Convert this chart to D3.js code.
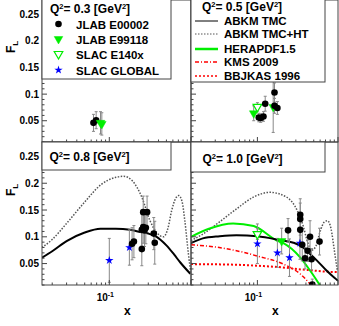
<!DOCTYPE html>
<html lang="en">
<head>
<meta charset="UTF-8">
<title>F_L panels</title>
<script src="https://cdn.jsdelivr.net/npm/d3@7"></script>
<style>
  body { margin: 0; background: #fff; }
  text { font-family: "Liberation Sans", Arial, sans-serif; font-weight: bold; fill: #000; }
</style>
</head>
<body>
<script>
// ---- data ----
const q2Titles = ["0.3", "0.5", "0.8", "1.0"];
const yTickValues = [0.05, 0.1, 0.15, 0.2, 0.25];
const xDomain = [0.015, 1];
const yDomain = [0.01, 0.277];

// points: [x, F_L, error]
const e00002_q03 = [[0.064, 0.046, 0.016], [0.069, 0.051, 0.016]];
const e99118_q03 = [[0.078, 0.046, 0.021], [0.081, 0.044, 0.021]];

const e00002_q05 = [[0.104, 0.056, 0.008], [0.110, 0.055, 0.008], [0.119, 0.058, 0.009],
  [0.125, 0.082, 0.014], [0.163, 0.103, 0.018], [0.163, 0.078, 0.014], [0.177, 0.074, 0.012]];
const e99118_q05 = [[0.090, 0.064, 0.014], [0.157, 0.076, 0.048]];
const e140x_q05 = [[0.100, 0.076, 0.008]];

const e00002_q08 = [[0.19, 0.087, 0.03], [0.20, 0.091, 0.03], [0.25, 0.077, 0.031], [0.25, 0.113, 0.03],
  [0.26, 0.146, 0.03], [0.26, 0.118, 0.03], [0.27, 0.112, 0.03], [0.28, 0.117, 0.03],
  [0.29, 0.146, 0.03], [0.35, 0.106, 0.03], [0.36, 0.089, 0.04]];
const global_q08 = [[0.10, 0.056, 0.041], [0.176, 0.080, 0.033]];

const e00002_q10 = [[0.24, 0.112, 0.022], [0.34, 0.141, 0.03], [0.34, 0.133, 0.03], [0.34, 0.113, 0.03],
  [0.36, 0.085, 0.03], [0.39, 0.060, 0.02], [0.42, 0.074, 0.02], [0.45, 0.100, 0.03],
  [0.47, 0.058, 0.02], [0.48, 0.011, 0.01], [0.59, 0.091, 0.025]];
const e99118_q10 = [[0.20, 0.092, 0.024]];
const e140x_q10 = [[0.10, 0.105, 0.01]];
const global_q10 = [[0.10, 0.087, 0.037], [0.177, 0.070, 0.027], [0.25, 0.061, 0.035], [0.337, 0.088, 0.03]];

// curves: [x, F_L]
const abkmTmc_q08 = [[0.015, 0.061], [0.02, 0.073], [0.03, 0.092], [0.05, 0.108], [0.078, 0.115],
  [0.12, 0.115], [0.18, 0.113], [0.24, 0.109], [0.3, 0.106], [0.38, 0.100], [0.5, 0.084],
  [0.62, 0.067], [0.74, 0.052], [0.98, 0.031]];
const abkmHt_q08 = [[0.015, 0.080], [0.02, 0.095], [0.03, 0.125], [0.05, 0.165], [0.08, 0.198],
  [0.12, 0.211], [0.15, 0.213], [0.19, 0.205], [0.25, 0.174], [0.315, 0.13], [0.38, 0.108],
  [0.46, 0.100], [0.52, 0.115], [0.58, 0.149], [0.65, 0.172], [0.71, 0.177], [0.78, 0.165],
  [0.84, 0.13], [0.93, 0.068], [0.99, 0.035]];

const abkmTmc_q10 = [[0.015, 0.088], [0.021, 0.097], [0.034, 0.101], [0.055, 0.103], [0.1, 0.101],
  [0.19, 0.094], [0.28, 0.089], [0.37, 0.080], [0.45, 0.068], [0.545, 0.056], [0.72, 0.037],
  [0.91, 0.023], [1.0, 0.018]];
const abkmHt_q10 = [[0.015, 0.093], [0.021, 0.105], [0.034, 0.128], [0.055, 0.152], [0.089, 0.174],
  [0.143, 0.183], [0.23, 0.174], [0.31, 0.150], [0.37, 0.12], [0.42, 0.09], [0.47, 0.075],
  [0.53, 0.082], [0.6, 0.11], [0.68, 0.128], [0.74, 0.130], [0.82, 0.115], [0.9, 0.075], [0.98, 0.037]];
const hera_q10 = [[0.015, 0.100], [0.025, 0.115], [0.05, 0.125], [0.09, 0.12], [0.174, 0.093],
  [0.21, 0.088], [0.337, 0.062], [0.45, 0.037], [0.6, 0.009]];
const kms_q10 = [[0.015, 0.085], [0.03, 0.081], [0.055, 0.074], [0.1, 0.064], [0.21, 0.049],
  [0.337, 0.031], [0.45, 0.012], [0.5, 0.004]];
const bbjkas_q10 = [[0.015, 0.049], [0.05, 0.048], [0.1, 0.046], [0.2, 0.043], [0.35, 0.039],
  [0.5, 0.037], [0.7, 0.035], [1.0, 0.034]];

// ---- layout ----
const W = 339, H = 326;
const cols = [[42, 191], [191, 338]];
const rows = [[0, 142], [142, 285]];

const svg = d3.select("body").append("svg").attr("width", W).attr("height", H);

const styles = {
  tmc: { stroke: "#000", width: 2, dash: null },
  ht: { stroke: "#555", width: 1.5, dash: "1.5,1.5" },
  hera: { stroke: "#00ee00", width: 2, dash: null },
  kms: { stroke: "#ff0000", width: 1.5, dash: "4,2,1,2" },
  bbj: { stroke: "#ff0000", width: 2, dash: "2,2" }
};

const panels = [
  { c: 0, r: 0, pts: [["circle", e00002_q03], ["tri", e99118_q03]], curves: [] },
  { c: 1, r: 0, pts: [["tri", e99118_q05], ["open", e140x_q05], ["circle", e00002_q05]], curves: [] },
  { c: 0, r: 1, pts: [["star", global_q08], ["circle", e00002_q08]],
    curves: [["ht", abkmHt_q08], ["tmc", abkmTmc_q08]] },
  { c: 1, r: 1, pts: [["star", global_q10], ["tri", e99118_q10], ["open", e140x_q10], ["circle", e00002_q10]],
    curves: [["ht", abkmHt_q10], ["bbj", bbjkas_q10], ["kms", kms_q10], ["hera", hera_q10], ["tmc", abkmTmc_q10]] }
];

function marker(g, type, x, y) {
  if (type === "circle") {
    g.append("circle").attr("cx", x).attr("cy", y).attr("r", 3.3).attr("fill", "#000");
  } else if (type === "tri" || type === "open") {
    g.append("path").attr("d", d3.symbol(d3.symbolTriangle, 32)())
      .attr("transform", "translate(" + x + "," + y + ") rotate(180)")
      .attr("fill", type === "tri" ? "#00ee00" : "#fff")
      .attr("stroke", "#00ee00").attr("stroke-width", type === "tri" ? 0.5 : 1.2);
  } else if (type === "star") {
    g.append("path").attr("d", d3.symbol(d3.symbolStar, 22)())
      .attr("transform", "translate(" + x + "," + y + ")").attr("fill", "#0000ff");
  }
}

panels.forEach(function (p, i) {
  const x = d3.scaleLog().domain(xDomain).range(cols[p.c]);
  const y = d3.scaleLinear().domain(yDomain).range([rows[p.r][1], rows[p.r][0]]);
  const g = svg.append("g");

  g.append("clipPath").attr("id", "clip" + i).append("rect")
    .attr("x", cols[p.c][0]).attr("y", rows[p.r][0])
    .attr("width", cols[p.c][1] - cols[p.c][0]).attr("height", rows[p.r][1] - rows[p.r][0]);

  // curves
  const line = d3.line().x(d => x(d[0])).y(d => y(d[1])).curve(d3.curveMonotoneX);
  p.curves.forEach(function (c) {
    const s = styles[c[0]];
    g.append("path").datum(c[1]).attr("d", line)
      .attr("clip-path", "url(#clip" + i + ")")
      .attr("fill", "none").attr("stroke", s.stroke).attr("stroke-width", s.width)
      .attr("stroke-dasharray", s.dash);
  });

  // error bars + markers
  const pg = g.append("g").attr("clip-path", "url(#clip" + i + ")");
  p.pts.forEach(function (set) {
    set[1].forEach(function (d) {
      const px = x(d[0]), y0 = y(d[1] - d[2]), y1 = y(d[1] + d[2]);
      pg.append("line").attr("x1", px).attr("x2", px).attr("y1", y0).attr("y2", y1)
        .attr("stroke", "#888").attr("stroke-width", 1);
      [y0, y1].forEach(function (yy) {
        pg.append("line").attr("x1", px - 1.5).attr("x2", px + 1.5).attr("y1", yy).attr("y2", yy)
          .attr("stroke", "#888").attr("stroke-width", 1);
      });
    });
  });
  p.pts.forEach(function (set) {
    set[1].forEach(function (d) { marker(pg, set[0], x(d[0]), y(d[1])); });
  });

  // frame
  g.append("rect").attr("x", cols[p.c][0]).attr("y", rows[p.r][0])
    .attr("width", cols[p.c][1] - cols[p.c][0]).attr("height", rows[p.r][1] - rows[p.r][0])
    .attr("fill", "none").attr("stroke", "#444").attr("stroke-width", 1);

  // y ticks (inside, pointing right)
  d3.range(0.01, 0.2771, 0.01).forEach(function (v) {
    const major = Math.abs(v / 0.05 - Math.round(v / 0.05)) < 1e-6;
    g.append("line").attr("x1", cols[p.c][0]).attr("x2", cols[p.c][0] + (major ? 5 : 2.5))
      .attr("y1", y(v)).attr("y2", y(v)).attr("stroke", "#444");
  });
  if (p.c === 0) {
    yTickValues.forEach(function (v) {
      g.append("text").attr("x", cols[0][0] - 3).attr("y", y(v) + 3.5)
        .attr("text-anchor", "end").attr("font-size", 10).text(d3.format("")(v));
    });
  }

  // x ticks (inside, pointing up)
  const xt = [];
  [0.01, 0.1].forEach(function (dec) {
    for (let k = 1; k <= 9; k++) xt.push(dec * k);
  });
  xt.push(1);
  xt.filter(v => v >= xDomain[0] && v <= xDomain[1]).forEach(function (v) {
    const major = Math.abs(v - 0.1) < 1e-9 || Math.abs(v - 1) < 1e-9;
    g.append("line").attr("x1", x(v)).attr("x2", x(v))
      .attr("y1", rows[p.r][1]).attr("y2", rows[p.r][1] - (major ? 5 : 2.5)).attr("stroke", "#444");
  });
  if (p.r === 1) {
    const t = g.append("text").attr("x", x(0.1) - 4).attr("y", 301)
      .attr("text-anchor", "middle").attr("font-size", 10);
    t.append("tspan").text("10");
    t.append("tspan").attr("dy", -4).attr("font-size", 7).text("-1");
    g.append("text").attr("x", x(0.1) + 18).attr("y", 315)
      .attr("text-anchor", "middle").attr("font-size", 12).text("x");
  }
});

// F_L axis titles
[47, 190].forEach(function (cy) {
  const t = svg.append("text").attr("transform", "translate(15," + cy + ") rotate(-90)")
    .attr("text-anchor", "middle").attr("font-size", 12);
  t.append("tspan").text("F");
  t.append("tspan").attr("dy", 3).attr("font-size", 8).text("L");
});

// boxes and titles
function box(x0, y0, x1, y1) {
  svg.append("rect").attr("x", x0).attr("y", y0).attr("width", x1 - x0).attr("height", y1 - y0)
    .attr("fill", "#fff").attr("stroke", "#444").attr("stroke-width", 1);
}
function title(x0, yb, q) {
  const t = svg.append("text").attr("x", x0).attr("y", yb).attr("font-size", 12);
  t.append("tspan").text("Q");
  t.append("tspan").attr("dy", -4).attr("font-size", 7.5).text("2");
  t.append("tspan").attr("dy", 4).text("= " + q + " [GeV");
  t.append("tspan").attr("dy", -4).attr("font-size", 7.5).text("2");
  t.append("tspan").attr("dy", 4).text("]");
}

box(42, -1, 171, 79);
title(50, 12.5, q2Titles[0]);
const dataLegend = [["circle", "JLAB E00002", 24], ["tri", "JLAB E99118", 39], ["open", "SLAC E140x", 54], ["star", "SLAC GLOBAL", 70]];
dataLegend.forEach(function (d) {
  marker(svg, d[0], 58.5, d[2]);
  svg.append("text").attr("x", 76).attr("y", d[2] + 4.5).attr("font-size", 11.5).text(d[1]);
});

box(191, -1, 325, 82);
title(202, 11, q2Titles[1]);
const curveLegend = [["tmc", "ABKM TMC", 21, 1], ["ht", "ABKM TMC+HT", 34, 1], ["hera", "HERAPDF1.5", 49, 2.5],
  ["kms", "KMS 2009", 62, 1.5], ["bbj", "BBJKAS 1996", 76, 1.5]];
curveLegend.forEach(function (d) {
  const s = styles[d[0]];
  svg.append("line").attr("x1", 195).attr("x2", 218).attr("y1", d[2]).attr("y2", d[2])
    .attr("stroke", s.stroke).attr("stroke-width", d[3]).attr("stroke-dasharray", s.dash);
  svg.append("text").attr("x", 224).attr("y", d[2] + 4.3).attr("font-size", 11.5).text(d[1]);
});

box(42, 142, 171, 170);
title(49.5, 160.5, q2Titles[2]);
box(191, 142, 325, 172);
title(202.5, 162.5, q2Titles[3]);
</script>
</body>
</html>
